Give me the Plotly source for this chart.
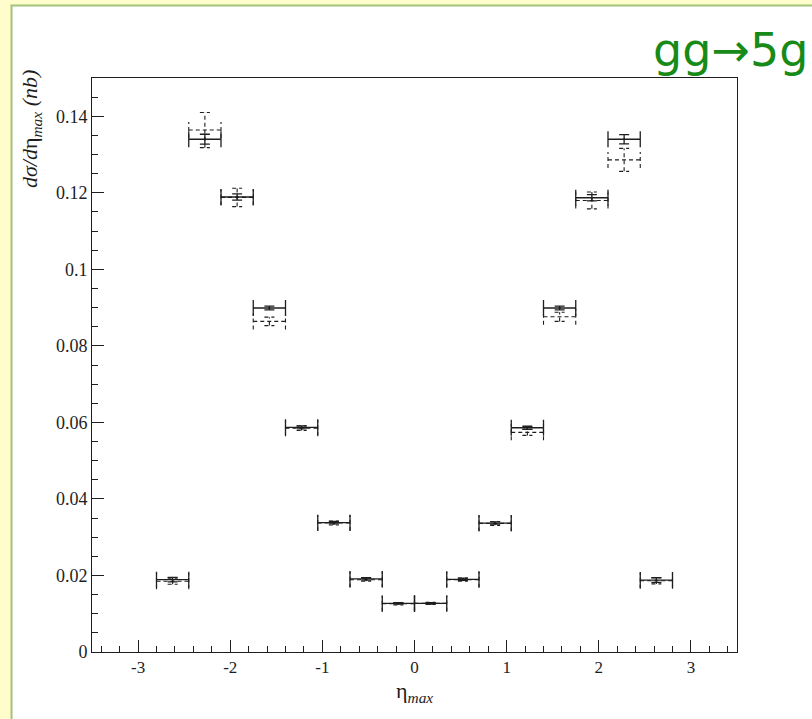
import plotly.graph_objects as go

# ---- data ----
bin_lo = [-2.8, -2.45, -2.1, -1.75, -1.4, -1.05, -0.7, -0.35,
          0.0, 0.35, 0.7, 1.05, 1.4, 1.75, 2.1, 2.45]
bin_width = 0.35
solid_vals = [0.0189, 0.1340, 0.1189, 0.0899, 0.0587, 0.0338, 0.0191, 0.0127,
              0.0127, 0.0190, 0.0337, 0.0586, 0.0899, 0.1187, 0.1340, 0.0188]
solid_err = [0.0006, 0.0013, 0.0008, 0.0005, 0.0004, 0.0003, 0.0003, 0.0002,
             0.0002, 0.0003, 0.0003, 0.0004, 0.0005, 0.0008, 0.0012, 0.0006]
dashed_vals = [0.0185, 0.1364, 0.1188, 0.0864, 0.0585, 0.0337, 0.0189, 0.0126,
               0.0127, 0.0189, 0.0336, 0.0574, 0.0876, 0.1180, 0.1286, 0.0186]
dashed_err = [0.0008, 0.0046, 0.0024, 0.0011, 0.0006, 0.0005, 0.0004, 0.0003,
              0.0003, 0.0004, 0.0005, 0.0008, 0.0012, 0.0022, 0.0030, 0.0008]

x_tickvals = [-3, -2, -1, 0, 1, 2, 3]
x_ticktext = ["-3", "-2", "-1", "0", "1", "2", "3"]
y_tickvals = [0, 0.02, 0.04, 0.06, 0.08, 0.10, 0.12, 0.14]
y_ticktext = ["0", "0.02", "0.04", "0.06", "0.08", "0.1", "0.12", "0.14"]

centers = [lo + bin_width / 2 for lo in bin_lo]
half_w = [bin_width / 2] * len(bin_lo)

# ---- layout geometry (pixels) ----
W, H = 812, 719
L, R, T, B = 92, 75, 78, 67
PW, PH = W - L - R, H - T - B
XR = (-3.5, 3.5)
YR = (0.0, 0.15)
cap_y = 8 / PH * (YR[1] - YR[0])     # half height of bin-edge caps
cap_x = 5 / PW * (XR[1] - XR[0])     # half width of error caps

ink = "#1e1e1e"

fig = go.Figure()

# solid series: native error bars
fig.add_trace(go.Scatter(
    x=centers, y=solid_vals, mode="markers",
    marker=dict(size=2, color=ink),
    error_x=dict(type="data", array=half_w, symmetric=True, width=8,
                 thickness=1.3, color=ink),
    error_y=dict(type="data", array=solid_err, symmetric=True, width=5,
                 thickness=1.3, color=ink),
    showlegend=False, hoverinfo="skip"))

# dashed series: error bars drawn as dashed line segments
dx, dy = [], []
for c, v, e in zip(centers, dashed_vals, dashed_err):
    lo, hi = c - bin_width / 2, c + bin_width / 2
    dx += [lo, hi, None, lo, lo, None, hi, hi, None,
           c, c, None, c - cap_x, c + cap_x, None, c - cap_x, c + cap_x, None]
    dy += [v, v, None, v - cap_y, v + cap_y, None, v - cap_y, v + cap_y, None,
           v - e, v + e, None, v + e, v + e, None, v - e, v - e, None]
fig.add_trace(go.Scatter(
    x=dx, y=dy, mode="lines",
    line=dict(color=ink, width=1.1, dash="4px,3px"),
    showlegend=False, hoverinfo="skip"))

def px2x(p):
    return (p - L) / PW

def px2y(p):
    return (H - B - p) / PH

serif = "Liberation Serif"
fig.update_layout(
    width=W, height=H,
    margin=dict(l=L, r=R, t=T, b=B),
    paper_bgcolor="#fffdcc",
    plot_bgcolor="white",
    xaxis=dict(range=list(XR), showgrid=False, zeroline=False,
               showline=True, linecolor=ink, linewidth=1, mirror=True,
               ticks="inside", ticklen=12, tickcolor=ink,
               tickvals=x_tickvals, ticktext=x_ticktext,
               tickfont=dict(family=serif, size=17, color=ink),
               minor=dict(ticks="inside", dtick=0.2, tick0=0, ticklen=6, tickcolor=ink)),
    yaxis=dict(range=list(YR), showgrid=False, zeroline=False,
               showline=True, linecolor=ink, linewidth=1, mirror=True,
               ticks="inside", ticklen=12, tickcolor=ink,
               tickvals=y_tickvals, ticktext=y_ticktext,
               tickfont=dict(family=serif, size=18, color=ink),
               minor=dict(ticks="inside", dtick=0.005, tick0=0, ticklen=6, tickcolor=ink)),
    shapes=[dict(type="rect", xref="paper", yref="paper",
                 x0=px2x(11.5), x1=px2x(830), y0=px2y(740), y1=px2y(5.5),
                 line=dict(color="#a3c27a", width=2), fillcolor="white",
                 layer="below")],
    annotations=[
        dict(text="<i>dσ/d</i>η<sub><i>max</i></sub> <i>(nb)</i>",
             xref="paper", yref="paper", x=px2x(31), y=px2y(68),
             xanchor="center", yanchor="top", textangle=-90, showarrow=False,
             font=dict(family=serif, size=22, color=ink)),
        dict(text="η<sub><i>max</i></sub>",
             xref="paper", yref="paper", x=px2x(414), y=px2y(692),
             xanchor="center", yanchor="middle", showarrow=False,
             font=dict(family=serif, size=22, color=ink)),
        dict(text="gg→5g",
             xref="paper", yref="paper", x=px2x(810), y=px2y(50),
             xanchor="right", yanchor="middle", showarrow=False,
             font=dict(family="DejaVu Sans", size=46, color="#178a17")),
    ],
)

fig.write_html("out.html")
